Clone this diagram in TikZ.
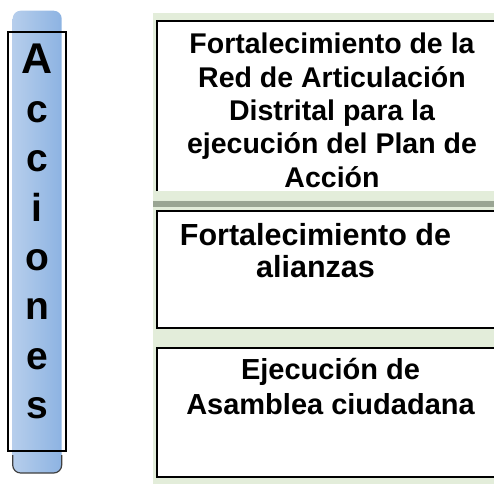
\documentclass[tikz,border=0pt]{standalone}
\usepackage{fontspec}
\setmainfont{Liberation Sans}
\definecolor{barlight}{HTML}{B6CEEC}
\definecolor{bardark}{HTML}{8DB3E2}
\definecolor{bandgreen}{HTML}{E3EDDA}
\definecolor{bandgray}{HTML}{9AA593}

\begin{document}
\begin{tikzpicture}[x=1pt,y=-1pt,every node/.style={inner sep=0pt},
  accion/.style={font=\bfseries\fontsize{29}{34}\selectfont,align=center,anchor=north},
  letras/.style={font=\bfseries\fontsize{39}{49.3}\selectfont,align=center,anchor=north},
  caja/.style={draw=black,line width=2pt,fill=white}]
  \useasboundingbox (0,0) rectangle (494,483);
  \clip (0,0) rectangle (494,483);

  % vertical bar
  \shade [left color=barlight,right color=bardark,rounded corners=8pt]
    (12.7,10.7) rectangle (61.7,473);
  \draw [black!75,line width=1.2pt,rounded corners=8pt]
    (12.7,455) -- (12.7,473) -- (61.7,473) -- (61.7,455);
  \draw [line width=1.8pt] (8.3,31.7) rectangle (65.7,450.7);
  \node [letras] (acciones) at (37.2,43.5)
    {{\fontsize{43}{49.3}\selectfont A}\\c\\c\\i\\o\\n\\e\\s};

  % right panel
  \fill [bandgreen] (152.7,12.7) rectangle (530,490);
  \fill [bandgray] (152.7,200.7) rectangle (530,207.3);

  \fill [white] (156.7,20.7) rectangle (530,191);
  \draw [line width=2pt] (156.7,191) -- (156.7,20.7) -- (530,20.7);
  \draw [caja] (157,210.7) rectangle (530,327.7);
  \draw [caja] (157,348) rectangle (530,476.7);

  \node [accion,font=\bfseries\fontsize{28.5}{33.3}\selectfont] (red) at (332,33)
    {Fortalecimiento de la\\Red de Articulación\\Distrital para la\\ejecución del Plan de\\Acción};
  \node [accion,font=\bfseries\fontsize{30.5}{32}\selectfont] (alianzas) at (315.5,223)
    {Fortalecimiento de\\alianzas};
  \node [accion,font=\bfseries\fontsize{29}{35}\selectfont] (asamblea) at (330.5,358)
    {Ejecución de\\Asamblea ciudadana};
\end{tikzpicture}
\end{document}
